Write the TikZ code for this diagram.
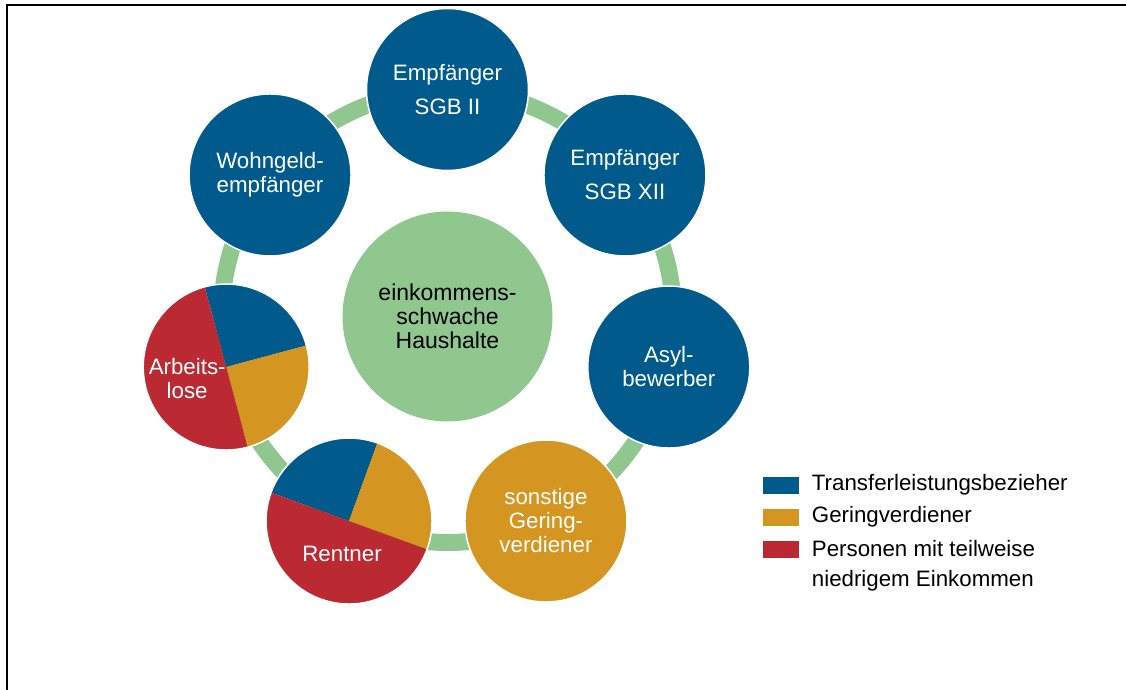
\documentclass[tikz,border=0pt]{standalone}
\usepackage{fontspec}
\setmainfont{Liberation Sans}
\usetikzlibrary{positioning,calc}
\definecolor{tblue}{RGB}{0,90,140}
\definecolor{tgold}{RGB}{212,150,32}
\definecolor{tred}{RGB}{187,41,51}
\definecolor{tgreen}{RGB}{143,199,143}

\begin{document}
\begin{tikzpicture}[x=1pt,y=1pt,every node/.style={font=\fontsize{22.3}{24}\selectfont,align=center},
  sat/.style={circle,minimum size=162pt,inner sep=0pt,fill=tblue,draw=white,line width=1.5pt,text=white},
  piesat/.style={circle,minimum size=166pt,inner sep=0pt,draw=white,line width=1.5pt},
  ringline/.style={draw=tgreen,line width=17pt}]
 \useasboundingbox (-447.5,-373.5) rectangle (678.5,316.5);
 \draw[line width=1.7pt] (-440.5,-373.5)--(-440.5,311.5)--(678.5,311.5);
 % centre and ring
 \node[circle,minimum size=210pt,inner sep=0pt,fill=tgreen,font=\fontsize{23}{24}\selectfont] (hub) at (0,0) {einkommens-\\schwache\\Haushalte};
 \draw[ringline] (hub.center) circle[radius=226];
 % satellites
 \node[sat] (sgb2) at (90:227) {Empfänger\\[10pt]SGB II};
 \node[sat] (sgb12) at (38.57:227) {Empfänger\\[10pt]SGB XII};
 \node[sat] (asyl) at (-12.86:227) {Asyl-\\bewerber};
 \node[sat,fill=tgold] (sonst) at (-64.29:227) {sonstige\\Gering-\\verdiener};
 \node[sat] (wohng) at (141.43:227) {Wohngeld-\\empfänger};
 % mixed groups
 \coordinate (rentc) at (-115.71:227);
 \fill[tblue] (rentc) -- ++(70:83) arc[start angle=70,end angle=160,radius=83] -- cycle;
 \fill[tgold] (rentc) -- ++(-20:83) arc[start angle=-20,end angle=70,radius=83] -- cycle;
 \fill[tred] (rentc) -- ++(160:83) arc[start angle=160,end angle=340,radius=83] -- cycle;
 \node[piesat] (rent) at (rentc) {};
 \node[text=white] (rent-lbl) at ($(rent)+(-7,-33)$) {Rentner};
 \coordinate (arblc) at (-167.14:227);
 \fill[tblue] (arblc) -- ++(15:83) arc[start angle=15,end angle=105,radius=83] -- cycle;
 \fill[tgold] (arblc) -- ++(-75:83) arc[start angle=-75,end angle=15,radius=83] -- cycle;
 \fill[tred] (arblc) -- ++(105:83) arc[start angle=105,end angle=285,radius=83] -- cycle;
 \node[piesat] (arbl) at (arblc) {};
 \node[text=white] (arbl-lbl) at ($(arbl)+(-39,-12)$) {Arbeits-\\lose};
 % legend
 \foreach \col/\txt [count=\i] in {tblue/Transferleistungsbezieher,tgold/Geringverdiener,tred/Personen mit teilweise} {
  \fill[\col] (315.2,{-160-32*(\i-1)}) rectangle ++(36.6,-17);
  \node[anchor=west,inner sep=0pt] (key\i) at (364.2,{-168.5-32*(\i-1)}) {\txt};
 }
 \node[anchor=west,inner sep=0pt] (key4) at (364.2,-264.5) {niedrigem Einkommen};
\end{tikzpicture}
\end{document}
